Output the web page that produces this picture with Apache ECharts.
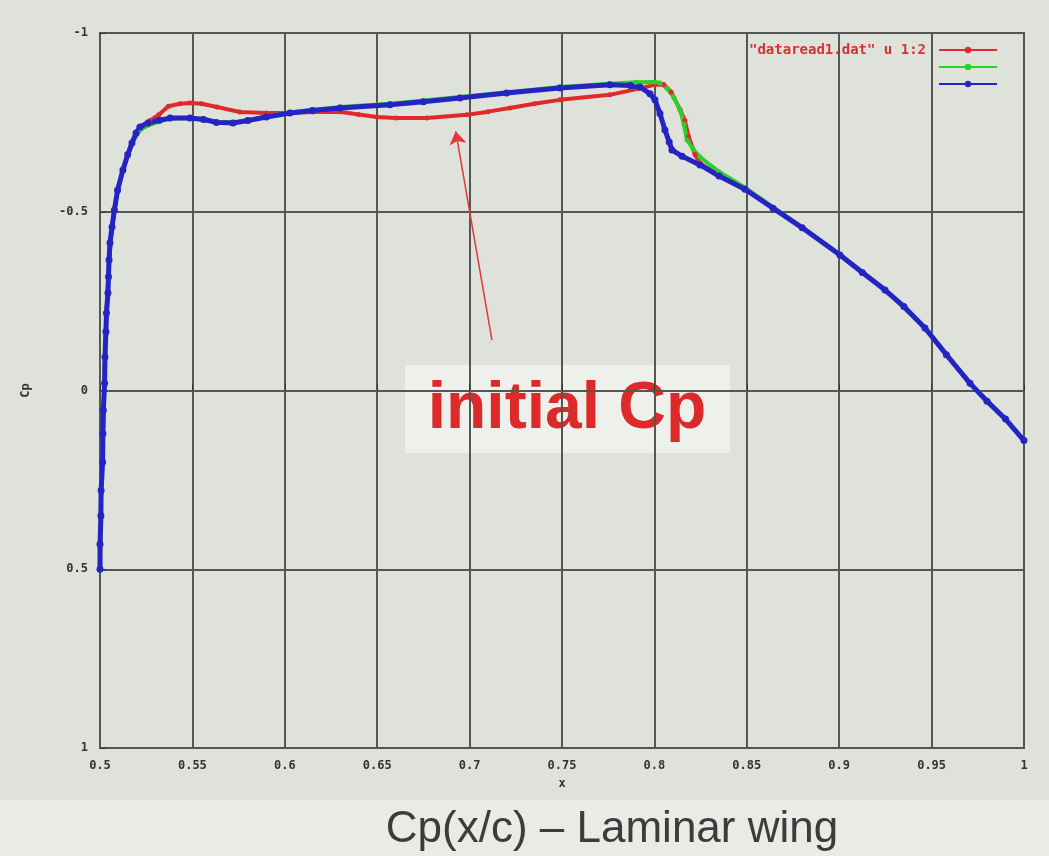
<!DOCTYPE html>
<html>
<head>
<meta charset="utf-8">
<script src="https://cdn.jsdelivr.net/npm/echarts@6/dist/echarts.min.js"></script>
<style>html,body{margin:0;padding:0;background:#dee2db;}#c{width:1049px;height:856px;}</style>
</head>
<body>
<div id="c"></div>
<script>
// ---- data ----
const xTicks = ['0.5','0.55','0.6','0.65','0.7','0.75','0.8','0.85','0.9','0.95','1'];
const yTicks = ['-1','-0.5','0','0.5','1'];

const redX = [0.5,0.5006,0.5016,0.5027,0.5035,0.5049,0.5065,0.5095,0.5124,0.5173,0.5216,0.527,0.532,0.537,0.5433,0.5487,0.555,0.5633,0.5757,0.59,0.6028,0.615,0.6299,0.64,0.6499,0.66,0.6769,0.6986,0.71,0.7218,0.735,0.7489,0.7759,0.7922,0.8,0.805,0.809,0.8139,0.8165,0.8185,0.822,0.8247,0.835,0.849,0.8642,0.88,0.9004,0.9248,0.9464,0.9708,0.99,1.0];
const redY = [0.5,0.28,0.12,-0.094,-0.217,-0.365,-0.457,-0.56,-0.617,-0.692,-0.737,-0.755,-0.772,-0.795,-0.802,-0.804,-0.802,-0.793,-0.779,-0.776,-0.776,-0.779,-0.78,-0.772,-0.765,-0.762,-0.762,-0.771,-0.78,-0.79,-0.802,-0.813,-0.827,-0.845,-0.855,-0.856,-0.835,-0.785,-0.755,-0.71,-0.66,-0.635,-0.602,-0.565,-0.511,-0.456,-0.38,-0.282,-0.176,-0.02,0.08,0.14];

const greenX = [0.5,0.5006,0.5016,0.5027,0.5035,0.5049,0.5065,0.5095,0.5124,0.5173,0.5216,0.526,0.532,0.5379,0.5487,0.556,0.563,0.572,0.58,0.59,0.6028,0.6299,0.6569,0.6948,0.7489,0.7759,0.79,0.8,0.803,0.807,0.8105,0.8139,0.816,0.8176,0.821,0.8247,0.835,0.849,0.8642,0.88,0.9004,0.9248,0.9464,0.9708,0.99,1.0];
const greenY = [0.5,0.28,0.12,-0.094,-0.217,-0.365,-0.457,-0.56,-0.617,-0.692,-0.728,-0.742,-0.752,-0.760,-0.762,-0.760,-0.752,-0.750,-0.757,-0.767,-0.778,-0.793,-0.802,-0.821,-0.849,-0.858,-0.862,-0.863,-0.860,-0.845,-0.820,-0.785,-0.745,-0.701,-0.675,-0.653,-0.612,-0.568,-0.512,-0.456,-0.38,-0.282,-0.176,-0.02,0.08,0.14];

const blueX = [0.5,0.5,0.5005,0.5006,0.5014,0.5016,0.5018,0.5025,0.5027,0.5032,0.5035,0.5043,0.5046,0.5049,0.5054,0.5065,0.5078,0.5095,0.5124,0.515,0.5173,0.5195,0.5216,0.526,0.532,0.5379,0.5487,0.556,0.563,0.572,0.58,0.59,0.6028,0.615,0.6299,0.6569,0.675,0.6948,0.72,0.7489,0.7759,0.787,0.7922,0.7976,0.8003,0.803,0.8057,0.808,0.8095,0.815,0.8247,0.835,0.849,0.8642,0.88,0.9004,0.9125,0.9248,0.935,0.9464,0.958,0.9708,0.98,0.99,1.0];
const blueY = [0.5,0.43,0.35,0.28,0.2,0.12,0.055,-0.02,-0.094,-0.164,-0.217,-0.273,-0.318,-0.365,-0.413,-0.457,-0.505,-0.56,-0.617,-0.66,-0.692,-0.72,-0.737,-0.748,-0.756,-0.762,-0.762,-0.758,-0.75,-0.748,-0.755,-0.765,-0.776,-0.783,-0.79,-0.799,-0.808,-0.818,-0.832,-0.846,-0.855,-0.853,-0.849,-0.83,-0.813,-0.775,-0.729,-0.695,-0.673,-0.655,-0.631,-0.6,-0.563,-0.51,-0.455,-0.379,-0.33,-0.281,-0.235,-0.175,-0.1,-0.02,0.03,0.08,0.14];

const arrowStart = [0.7121, -0.141];
const arrowEnd = [0.6925, -0.725];

const legendName = '"dataread1.dat" u 1:2';
const zip = (xs, ys) => xs.map((x, i) => [x, ys[i]]);

const chart = echarts.init(document.getElementById('c'));
const tickFont = {fontFamily: 'DejaVu Sans Mono', fontWeight: 'bold', fontSize: 12, color: '#333'};

function lineSeries(name, color, xs, ys, size, width, extra) {
  return Object.assign({
    name: name, type: 'line', data: zip(xs, ys),
    symbol: 'circle', symbolSize: size, showSymbol: true,
    lineStyle: {color: color, width: width},
    itemStyle: {color: color},
    emphasis: {disabled: true},
    animation: false
  }, extra || {});
}

chart.setOption({
  backgroundColor: '#dee2db',
  animation: false,
  grid: {left: 100, top: 33, right: 25, bottom: 108, show: true, borderColor: '#4a4a4a', borderWidth: 2, backgroundColor: 'transparent'},
  legend: {
    orient: 'vertical', right: 46, top: 38, align: 'right', itemGap: 3,
    itemWidth: 58, itemHeight: 8,
    data: [
      {name: legendName, textStyle: {color: '#d83030'}},
      {name: ' ', textStyle: {color: '#22bb22'}},
      {name: '  ', textStyle: {color: '#2222bb'}}
    ],
    textStyle: {fontFamily: 'DejaVu Sans Mono', fontWeight: 'bold', fontSize: 14, color: '#d83030', padding: [0, 8, 0, 0]}
  },
  xAxis: {
    type: 'value', min: 0.5, max: 1, interval: 0.05,
    name: 'x', nameLocation: 'middle', nameGap: 30, nameTextStyle: tickFont,
    axisLine: {show: false}, axisTick: {show: true, inside: true, length: 6, lineStyle: {color: '#333'}},
    axisLabel: Object.assign({margin: 12, formatter: (v) => xTicks[Math.round((v - 0.5) / 0.05)]}, tickFont),
    splitLine: {show: true, lineStyle: {color: '#555', width: 2}}
  },
  yAxis: {
    type: 'value', min: -1, max: 1, interval: 0.5, inverse: true,
    name: 'Cp', nameLocation: 'middle', nameGap: 68, nameRotate: 90, nameTextStyle: tickFont,
    axisLine: {show: false}, axisTick: {show: true, inside: true, length: 6, lineStyle: {color: '#333'}},
    axisLabel: Object.assign({margin: 12, formatter: (v) => yTicks[Math.round((v + 1) / 0.5)]}, tickFont),
    splitLine: {show: true, lineStyle: {color: '#555', width: 2}}
  },
  series: [
    lineSeries(legendName, '#e02a2a', redX, redY, 5, 4, {
      markLine: {
        silent: true, symbol: ['none', 'arrow'], symbolSize: 13,
        label: {show: false},
        lineStyle: {color: '#e03a3a', width: 1.5, type: 'solid'},
        data: [[{coord: arrowStart}, {coord: arrowEnd}]]
      }
    }),
    lineSeries(' ', '#2ccf2c', greenX, greenY, 5, 4),
    lineSeries('  ', '#2424c4', blueX, blueY, 7, 5)
  ],
  graphic: [
    {type: 'rect', left: 0, top: 800, z: -10, silent: true, shape: {width: 1049, height: 56}, style: {fill: '#e8ebe6'}},
    {type: 'group', left: 405, top: 365, z: 50, children: [
      {type: 'rect', shape: {x: 0, y: 0, width: 325, height: 88}, style: {fill: '#eef0ec'}},
      {type: 'text', x: 162, y: 45, style: {text: 'initial Cp', font: 'bold 66px "Liberation Sans", Arial, sans-serif', fill: '#dc2a2a', align: 'center', verticalAlign: 'middle'}}
    ]},
    {type: 'text', x: 612, y: 830, z: 50, style: {text: 'Cp(x/c) \u2013 Laminar wing', font: '44px "Liberation Sans", Arial, sans-serif', fill: '#3c3c3c', align: 'center', verticalAlign: 'middle'}}
  ]
});
</script>
</body>
</html>
